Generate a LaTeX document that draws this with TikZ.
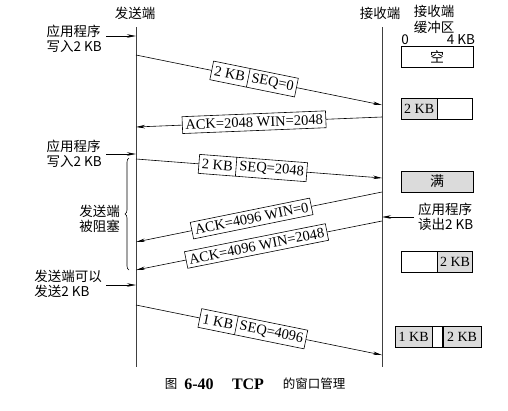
\documentclass[tikz,border=0pt]{standalone}
\usepackage{fontspec}
\setmainfont{Liberation Serif}
\newfontfamily\cjk{Noto Sans CJK SC}
\usetikzlibrary{
  arrows.meta,
  positioning,
  shapes.multipart,
  decorations.pathreplacing
}

\begin{document}
\begin{tikzpicture}[
    x=1pt, y=-1pt,
    >={Stealth[length=9pt,width=3.5pt]},
    lifeline/.style={line width=0.8pt, black!75},
    msg/.style={->, line width=0.6pt},
    seg/.style={
      rectangle split, rectangle split horizontal, rectangle split parts=2,
      draw, fill=white, sloped, inner xsep=3pt, inner ysep=3.5pt,
      font=\fontsize{14.5}{16}\selectfont
    },
    ack/.style={
      draw, fill=white, sloped, inner xsep=3pt, inner ysep=3.5pt,
      font=\fontsize{14.5}{16}\selectfont
    },
    lbl/.style={align=left, inner sep=1pt, font=\cjk\fontsize{13.5}{15.5}\selectfont},
    buf/.style={draw, minimum height=21pt, inner sep=0pt, font=\fontsize{14}{16}\selectfont},
    full/.style={buf, fill=black!14},
    captext/.style={inner sep=1pt, font=\bfseries\fontsize{16}{18}\selectfont},
    capcjk/.style={inner sep=1pt, font=\cjk\fontsize{12.5}{14}\selectfont}
  ]

  \useasboundingbox (0,0) rectangle (508,410);

  %% Lifelines
  \node[lbl] (snd) at (135,13) {发送端};
  \node[lbl] (rcv) at (380,13) {接收端};
  \coordinate (stop) at (136,27);
  \coordinate (sbot) at (136,367);
  \coordinate (rtop) at (382,27);
  \coordinate (rbot) at (382,367);
  \draw[lifeline] (stop) -- (sbot);
  \draw[lifeline] (rtop) -- (rbot);

  %% Receiver buffer
  \node[lbl, align=center] (bufhd) at (434,19.5) {接收端\\缓冲区};
  \node[lbl] (zero) at (405,40) {0};
  \node[lbl] (four) at (461,40) {4 KB};

  \node[buf, minimum width=72pt] (b1) at (437,56.5) {\cjk 空};
  \node[full, minimum width=36pt, anchor=west] (b2a) at (401,108.5) {2 KB};
  \node[buf, minimum width=35pt, anchor=west] (b2b) at (b2a.east) {};
  \node[full, minimum width=72pt] (b3) at (437,181.5) {\cjk 满};
  \node[buf, minimum width=36pt, anchor=west] (b4a) at (401,262) {};
  \node[full, minimum width=35pt, anchor=west] (b4b) at (b4a.east) {2 KB};
  \node[full, minimum width=37pt, anchor=west] (b5a) at (395,337) {1 KB};
  \node[buf, minimum width=10pt, anchor=west] (b5b) at (b5a.east) {};
  \node[full, minimum width=38pt, anchor=west] (b5c) at (b5b.east) {2 KB};

  %% Application events
  \node[lbl, anchor=east] (wr1) at (103,39) {应用程序\\写入2 KB};
  \node[lbl, anchor=east] (wr2) at (103,154) {应用程序\\写入2 KB};
  \node[lbl, anchor=east] (go) at (103,284) {发送端可以\\发送2 KB};
  \node[lbl, anchor=west] (rd) at (417,217) {应用程序\\读出2 KB};
  \coordinate (w1) at (136,36);
  \coordinate (w2) at (136,154);
  \coordinate (w3) at (136,285);
  \coordinate (rd1) at (382,217);
  \draw[msg, shorten <=3pt] (wr1.east |- w1) -- (w1);
  \draw[msg, shorten <=3pt] (wr2.east |- w2) -- (w2);
  \draw[msg, shorten <=3pt] (go.east |- w3) -- (w3);
  \draw[msg, shorten <=3pt] (rd.west |- rd1) -- (rd1);

  %% Sender blocked
  \coordinate (blkt) at (129,158);
  \coordinate (blkb) at (129,270);
  \draw[line width=0.6pt, decorate, decoration={brace, amplitude=4pt}] (blkb) -- (blkt);
  \node[lbl, align=center, anchor=east] (blk) at (121,219) {发送端\\被阻塞};

  %% Segments and acknowledgements
  \coordinate (s1) at (136,55);   \coordinate (r1) at (382,105);
  \coordinate (r2) at (382,117);  \coordinate (s2) at (136,127);
  \coordinate (s3) at (136,159);  \coordinate (r3) at (382,178);
  \coordinate (r4) at (382,192);  \coordinate (s4) at (136,242);
  \coordinate (r5) at (382,221);  \coordinate (s5) at (136,270);
  \coordinate (s6) at (136,305);  \coordinate (r6) at (382,355);

  \draw[msg] (s1) -- node[seg, pos=0.48] {2 KB\nodepart{two}SEQ=0} (r1);
  \draw[msg] (r2) -- node[ack, pos=0.52] {ACK=2048 WIN=2048} (s2);
  \draw[msg] (s3) -- node[seg, pos=0.475] {2 KB\nodepart{two}SEQ=2048} (r3);
  \draw[msg] (r4) -- node[ack, pos=0.53] {ACK=4096 WIN=0} (s4);
  \draw[msg] (r5) -- node[ack, pos=0.51] {ACK=4096 WIN=2048} (s5);
  \draw[msg] (s6) -- node[seg, pos=0.475] {1 KB\nodepart{two}SEQ=4096} (r6);

  %% Caption
  \node[capcjk] (capfig) at (171,384) {图};
  \node[captext] (capnum) at (199,384) {6-40};
  \node[captext] (captcp) at (248,384) {TCP};
  \node[capcjk] (captxt) at (314,384) {的窗口管理};

\end{tikzpicture}
\end{document}
